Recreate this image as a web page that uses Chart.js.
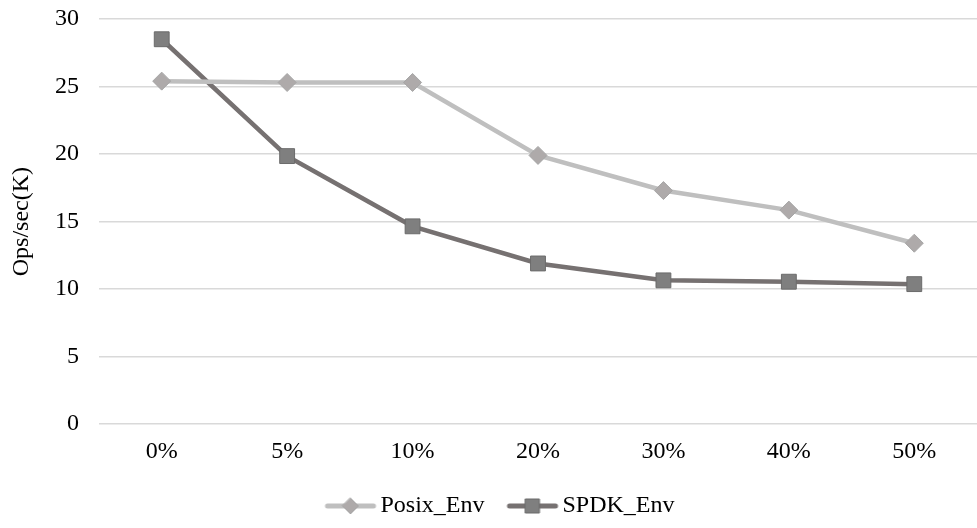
<!DOCTYPE html>
<html>
<head>
<meta charset="utf-8">
<script src="https://cdn.jsdelivr.net/npm/chart.js@4/dist/chart.umd.min.js"></script>
<style>
  html, body { margin: 0; padding: 0; background: #fff; }
  #wrap { width: 977px; height: 528px; }
</style>
</head>
<body>
<div id="wrap"><canvas id="chart" width="977" height="528"></canvas></div>
<script>
// categories and series
const categories = ['0%', '5%', '10%', '20%', '30%', '40%', '50%'];
const posixEnv = [25.4, 25.3, 25.3, 19.9, 17.3, 15.85, 13.4];
const spdkEnv = [28.5, 19.85, 14.65, 11.9, 10.65, 10.55, 10.37];
const yTicks = [0, 5, 10, 15, 20, 25, 30];

const FONT = "'Liberation Serif', 'Times New Roman', serif";
const FONT_SIZE = 24;

// legend swatch: a short line with the series marker on it.
// The image is wider than the legend box so the line sits close to the text.
function makeSwatch(lineColor, fill, stroke, shape) {
    const c = document.createElement('canvas');
    c.width = 100; c.height = 20;
    const g = c.getContext('2d');
    const x0 = 39, x1 = 89, cx = (x0 + x1) / 2, cy = 10;
    g.strokeStyle = lineColor;
    g.lineWidth = 5;
    g.lineCap = 'round';
    g.beginPath(); g.moveTo(x0 + 2, cy); g.lineTo(x1 - 2, cy); g.stroke();
    g.fillStyle = fill;
    g.strokeStyle = stroke;
    g.lineWidth = 1;
    g.beginPath();
    if (shape === 'diamond') {
        g.moveTo(cx, cy - 8); g.lineTo(cx + 8, cy); g.lineTo(cx, cy + 8); g.lineTo(cx - 8, cy); g.closePath();
    } else {
        g.rect(cx - 7, cy - 7, 14, 14);
    }
    g.fill(); g.stroke();
    return c;
}

function drawChart() {
    const posixSwatch = makeSwatch('#bfbfbf', '#aeaaaa', '#a6a6a6', 'diamond');
    const spdkSwatch = makeSwatch('#767171', '#7f7f7f', '#6b6b6b', 'square');

    new Chart(document.getElementById('chart'), {
        type: 'line',
        data: {
            labels: categories,
            datasets: [
                {
                    label: 'Posix_Env',
                    data: posixEnv,
                    borderColor: '#bfbfbf',
                    borderWidth: 4.5,
                    pointStyle: 'rectRot',
                    pointRadius: 9,
                    pointBackgroundColor: '#aeaaaa',
                    pointBorderColor: '#a6a6a6',
                    pointBorderWidth: 1,
                    tension: 0,
                    legendSwatch: posixSwatch
                },
                {
                    label: 'SPDK_Env',
                    data: spdkEnv,
                    borderColor: '#767171',
                    borderWidth: 4.5,
                    pointStyle: 'rect',
                    pointRadius: 10.5,
                    pointBackgroundColor: '#7f7f7f',
                    pointBorderColor: '#6b6b6b',
                    pointBorderWidth: 1,
                    tension: 0,
                    legendSwatch: spdkSwatch
                }
            ]
        },
        options: {
            responsive: false,
            animation: false,
            layout: { autoPadding: false, padding: { left: 2, right: 0, top: 19, bottom: 0 } },
            plugins: {
                tooltip: { enabled: false },
                legend: {
                    position: 'bottom',
                    labels: {
                        usePointStyle: true,
                        pointStyleWidth: 64,
                        font: { family: FONT, size: FONT_SIZE },
                        color: '#000',
                        padding: 2,
                        generateLabels(chart) {
                            return chart.data.datasets.map((ds, i) => ({
                                text: ds.label,
                                pointStyle: ds.legendSwatch,
                                fontColor: '#000',
                                hidden: false,
                                datasetIndex: i
                            }));
                        }
                    }
                }
            },
            scales: {
                x: {
                    offset: true,
                    grid: { display: false },
                    border: { display: false },
                    ticks: { font: { family: FONT, size: FONT_SIZE }, color: '#000', padding: 5 },
                    afterFit(axis) {
                        // keep the plot running to the right edge, leave room above the legend
                        axis.paddingLeft = 0;
                        axis.paddingRight = 0;
                        axis.height += 21;
                    }
                },
                y: {
                    min: 0,
                    max: 30,
                    afterBuildTicks(axis) { axis.ticks = yTicks.map(v => ({ value: v })); },
                    grid: { color: '#d9d9d9', lineWidth: 1.5, drawTicks: false },
                    border: { display: false },
                    ticks: { font: { family: FONT, size: FONT_SIZE }, color: '#000', padding: 20 },
                    title: {
                        display: true,
                        text: 'Ops/sec(K)',
                        font: { family: FONT, size: FONT_SIZE },
                        color: '#000',
                        padding: { top: 5, bottom: 18 }
                    },
                    afterFit(axis) {
                        axis.width = 97;
                        axis.paddingTop = 0;
                        axis.paddingBottom = 0;
                    }
                }
            }
        }
    });
}

// wait for the serif face so text is measured with the right metrics
document.fonts.load(FONT_SIZE + 'px "Liberation Serif"').then(drawChart, drawChart);
</script>
</body>
</html>
